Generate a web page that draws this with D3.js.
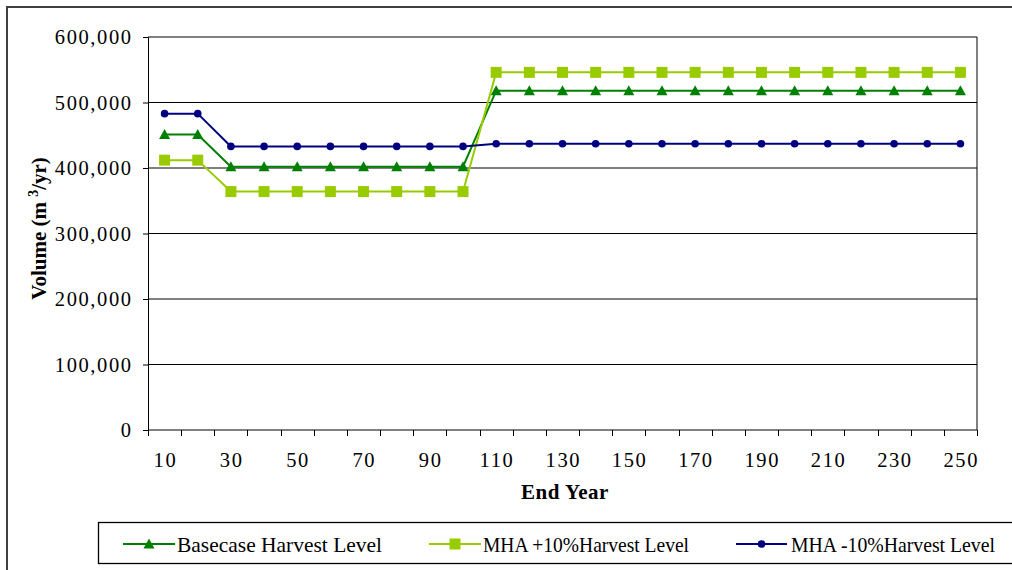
<!DOCTYPE html>
<html>
<head>
<meta charset="utf-8">
<script src="https://cdn.jsdelivr.net/npm/d3@7"></script>
<style>
  html, body { margin: 0; padding: 0; background: #fff; }
  svg { display: block; }
  text { font-family: "Liberation Serif", "Times New Roman", serif; fill: #000; }
</style>
</head>
<body>
<svg id="chart" width="1012" height="570"></svg>
<script>
// End year of each planning period
const years = [10, 20, 30, 40, 50, 60, 70, 80, 90, 100, 110, 120, 130,
               140, 150, 160, 170, 180, 190, 200, 210, 220, 230, 240, 250];

// Harvest volume (m3/yr) per period
const basecase = [451000, 451000, 402000, 402000, 402000, 402000, 402000, 402000, 402000, 402000,
                  518000, 518000, 518000, 518000, 518000, 518000, 518000, 518000, 518000, 518000,
                  518000, 518000, 518000, 518000, 518000];
const mhaPlus10 = [412000, 412000, 364000, 364000, 364000, 364000, 364000, 364000, 364000, 364000,
                   546000, 546000, 546000, 546000, 546000, 546000, 546000, 546000, 546000, 546000,
                   546000, 546000, 546000, 546000, 546000];
const mhaMinus10 = [483000, 483000, 433000, 433000, 433000, 433000, 433000, 433000, 433000, 433000,
                    437000, 437000, 437000, 437000, 437000, 437000, 437000, 437000, 437000, 437000,
                    437000, 437000, 437000, 437000, 437000];

// Labelled categories and value ticks
const xTickLabels = [10, 30, 50, 70, 90, 110, 130, 150, 170, 190, 210, 230, 250];
const yTicks = [0, 100000, 200000, 300000, 400000, 500000, 600000];

const seriesNames = ["Basecase Harvest Level", "MHA +10%Harvest Level", "MHA -10%Harvest Level"];

const svg = d3.select("#chart");

// Outer chart frame (runs past the right and bottom edges)
svg.append("rect")
  .attr("x", 7).attr("y", 7).attr("width", 1100).attr("height", 700)
  .attr("fill", "#fff").attr("stroke", "#404040").attr("stroke-width", 2);

const plot = { left: 148, right: 977, top: 37, bottom: 430 };

const x = d3.scaleBand().domain(years).range([plot.left, plot.right]);
const y = d3.scaleLinear().domain([0, 600000]).range([plot.bottom, plot.top]);
const cx = d => x(d) + x.bandwidth() / 2;

// Horizontal gridlines
svg.append("g")
  .selectAll("line")
  .data(yTicks.filter(v => v > 0))
  .join("line")
  .attr("x1", plot.left).attr("x2", plot.right)
  .attr("y1", d => y(d)).attr("y2", d => y(d))
  .attr("stroke", "#000").attr("stroke-width", 1);

// Right edge of the plot area
svg.append("line")
  .attr("x1", plot.right).attr("x2", plot.right)
  .attr("y1", plot.top).attr("y2", plot.bottom)
  .attr("stroke", "#000").attr("stroke-width", 1);

// Y axis
const yAxis = svg.append("g")
  .attr("transform", `translate(${plot.left},0)`)
  .call(d3.axisLeft(y).tickValues(yTicks).tickSize(5).tickPadding(12)
    .tickFormat(d3.format(",")));
yAxis.select(".domain").attr("stroke", "#000");
yAxis.selectAll(".tick line").attr("stroke", "#000");
yAxis.selectAll(".tick text")
  .attr("font-family", "Liberation Serif, serif")
  .attr("font-size", 20.5)
  .attr("letter-spacing", 1.6)
  .attr("dx", 1.6)
  .attr("fill", "#000");

// X axis: labels on every other category, ticks on category boundaries
const xAxis = svg.append("g")
  .attr("transform", `translate(0,${plot.bottom})`)
  .call(d3.axisBottom(x).tickValues(xTickLabels).tickSize(0).tickPadding(22));
xAxis.select(".domain").remove();
xAxis.selectAll(".tick text")
  .attr("font-family", "Liberation Serif, serif")
  .attr("font-size", 20.5)
  .attr("letter-spacing", 1.6)
  .attr("dx", 0.8)
  .attr("fill", "#000");

svg.append("line")
  .attr("x1", plot.left).attr("x2", plot.right)
  .attr("y1", plot.bottom).attr("y2", plot.bottom)
  .attr("stroke", "#000");

const boundaries = years.map(d => x(d)).concat([x(years[years.length - 1]) + x.bandwidth()]);
svg.append("g")
  .selectAll("line")
  .data(boundaries)
  .join("line")
  .attr("x1", d => Math.round(d) + 0.5).attr("x2", d => Math.round(d) + 0.5)
  .attr("y1", plot.bottom).attr("y2", plot.bottom + 6)
  .attr("stroke", "#000");

// Axis titles
svg.append("text")
  .attr("x", 565).attr("y", 499)
  .attr("text-anchor", "middle")
  .attr("font-size", 21).attr("font-weight", "bold")
  .attr("letter-spacing", 0.5)
  .text("End Year");

const yTitle = svg.append("text")
  .attr("transform", `translate(46,${(plot.top + plot.bottom) / 2 - 5}) rotate(-90)`)
  .attr("text-anchor", "middle")
  .attr("font-size", 21).attr("font-weight", "bold");
yTitle.append("tspan").text("Volume (m ");
yTitle.append("tspan").attr("font-size", 14).attr("dy", -8).text("3");
yTitle.append("tspan").attr("dy", 8).text("/yr)");

// Series
const series = [
  { name: seriesNames[0], values: basecase, color: "#008000", marker: "triangle" },
  { name: seriesNames[1], values: mhaPlus10, color: "#99CC00", marker: "square" },
  { name: seriesNames[2], values: mhaMinus10, color: "#000080", marker: "circle" }
];

function drawMarker(g, type, color) {
  if (type === "triangle") {
    g.append("path").attr("d", "M0,-5.5L5.5,4.5L-5.5,4.5Z").attr("fill", color);
  } else if (type === "square") {
    g.append("rect").attr("x", -5.5).attr("y", -5.5).attr("width", 11).attr("height", 11).attr("fill", color);
  } else {
    g.append("circle").attr("r", 3.8).attr("fill", color);
  }
}

const line = d3.line().x((d, i) => cx(years[i])).y(d => y(d));

series.forEach(s => {
  svg.append("path")
    .datum(s.values)
    .attr("d", line)
    .attr("fill", "none")
    .attr("stroke", s.color)
    .attr("stroke-width", 2);
  const mg = svg.append("g");
  s.values.forEach((v, i) => {
    const g = mg.append("g").attr("transform", `translate(${cx(years[i])},${y(v)})`);
    drawMarker(g, s.marker, s.color);
  });
});

// Legend
svg.append("rect")
  .attr("x", 98.5).attr("y", 522.5).attr("width", 1000).attr("height", 41)
  .attr("fill", "#fff").attr("stroke", "#000").attr("stroke-width", 1.3);

const legendItems = [
  { x0: 123, x1: 175, tx: 177, tw: 205 },
  { x0: 429, x1: 481, tx: 483, tw: 206 },
  { x0: 736, x1: 787, tx: 791, tw: 204 }
];
const legendY = 544;
series.forEach((s, i) => {
  const it = legendItems[i];
  svg.append("line")
    .attr("x1", it.x0).attr("x2", it.x1)
    .attr("y1", legendY).attr("y2", legendY)
    .attr("stroke", s.color).attr("stroke-width", 2);
  const g = svg.append("g").attr("transform", `translate(${(it.x0 + it.x1) / 2},${legendY})`);
  drawMarker(g, s.marker, s.color);
  svg.append("text")
    .attr("x", it.tx).attr("y", legendY + 8)
    .attr("font-size", 21.5)
    .attr("textLength", it.tw)
    .attr("lengthAdjust", "spacingAndGlyphs")
    .text(s.name);
});
</script>
</body>
</html>
